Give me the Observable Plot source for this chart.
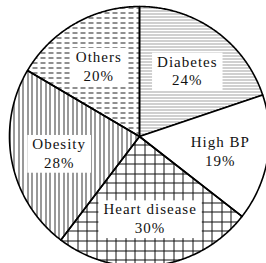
<!DOCTYPE html>
<html><head><meta charset="utf-8">
<script src="https://cdn.jsdelivr.net/npm/d3@7"></script>
<script src="https://cdn.jsdelivr.net/npm/@observablehq/plot@0.6"></script>
<style>
html,body{margin:0;padding:0;background:#fff;overflow:hidden}
#chart text{letter-spacing:1px;font-family:"Liberation Serif","DejaVu Serif",serif !important}
</style></head><body><div id="chart"></div>
<script>
const categories = ["Diabetes", "High BP", "Heart disease", "Obesity", "Others"];
const values = [24, 19, 30, 28, 20];
const valueLabels = ["24%", "19%", "30%", "28%", "20%"];
const fills = ["url(#pat-dots)", "white", "url(#pat-grid)", "url(#pat-vlines)", "url(#pat-dashes)"];

const ns = "http://www.w3.org/2000/svg";
const pie = d3.pie().sort(null).startAngle(0).endAngle(2 * Math.PI)(values);
const step = Math.PI / 360;
const slices = pie.map(p => {
  const pts = [{x: 0, y: 0}];
  const n = Math.max(2, Math.ceil((p.endAngle - p.startAngle) / step));
  for (let k = 0; k <= n; k++) {
    const a = p.startAngle + (p.endAngle - p.startAngle) * k / n;
    pts.push({x: Math.sin(a), y: Math.cos(a)});
  }
  pts.push({x: 0, y: 0});
  return pts;
});
const labelR = 0.63;
const labels = pie.map((p, i) => {
  const a = (p.startAngle + p.endAngle) / 2;
  return {x: labelR * Math.sin(a), y: labelR * Math.cos(a), text: categories[i] + "\n" + valueLabels[i]};
});

function defsMark() {
  const d = document.createElementNS(ns, "defs");
  d.innerHTML = `
  <pattern id="pat-dots" patternUnits="userSpaceOnUse" width="2" height="3">
    <rect x="0" y="1" width="1" height="1" fill="#444"/>
  </pattern>
  <pattern id="pat-dashes" patternUnits="userSpaceOnUse" width="8" height="5">
    <rect x="0" y="2" width="5" height="1" fill="#222"/>
  </pattern>
  <pattern id="pat-vlines" patternUnits="userSpaceOnUse" width="9" height="4">
    <rect x="0" y="0" width="1" height="4" fill="#333"/>
    <rect x="4" y="0" width="1" height="4" fill="#333"/>
  </pattern>
  <pattern id="pat-grid" patternUnits="userSpaceOnUse" width="48" height="48">
    <rect x="0" y="0" width="1" height="48" fill="#111"/>
    <rect x="10" y="0" width="1" height="48" fill="#111"/>
    <rect x="19" y="0" width="1" height="48" fill="#111"/>
    <rect x="29" y="0" width="1" height="48" fill="#111"/>
    <rect x="38" y="0" width="1" height="48" fill="#111"/>
    <rect x="0" y="0" width="48" height="1" fill="#111"/>
    <rect x="0" y="10" width="48" height="1" fill="#111"/>
    <rect x="0" y="19" width="48" height="1" fill="#111"/>
    <rect x="0" y="29" width="48" height="1" fill="#111"/>
    <rect x="0" y="38" width="48" height="1" fill="#111"/>
  </pattern>`;
  return d;
}

const plot = Plot.plot({
  width: 266, height: 263,
  marginLeft: 9, marginRight: -3, marginTop: 6, marginBottom: -3,
  x: {domain: [-1, 1], axis: null},
  y: {domain: [-1, 1], axis: null},
  style: {fontFamily: "'Liberation Serif', serif", fontSize: "15px", background: "white"},
  marks: [
    defsMark,
    ...slices.map((pts, i) => Plot.line(pts, {x: "x", y: "y", fill: fills[i], stroke: "black", strokeWidth: 1.6, strokeLinejoin: "round"})),
    Plot.text(labels, {x: "x", y: "y", text: "text", fontSize: 15, fontFamily: "'Liberation Serif', serif", lineHeight: 1.25, fill: "#111"})
  ]
});
document.getElementById("chart").appendChild(plot);

plot.querySelectorAll('g[aria-label="text"] text').forEach(t => {
  const b = t.getBBox();
  const r = document.createElementNS(ns, "rect");
  r.setAttribute("x", b.x - 5);
  r.setAttribute("y", b.y - 1);
  r.setAttribute("width", b.width + 10);
  r.setAttribute("height", b.height + 3);
  r.setAttribute("fill", "white");
  const tr = t.getAttribute("transform");
  if (tr) r.setAttribute("transform", tr);
  t.parentNode.insertBefore(r, t);
});
</script></body></html>
